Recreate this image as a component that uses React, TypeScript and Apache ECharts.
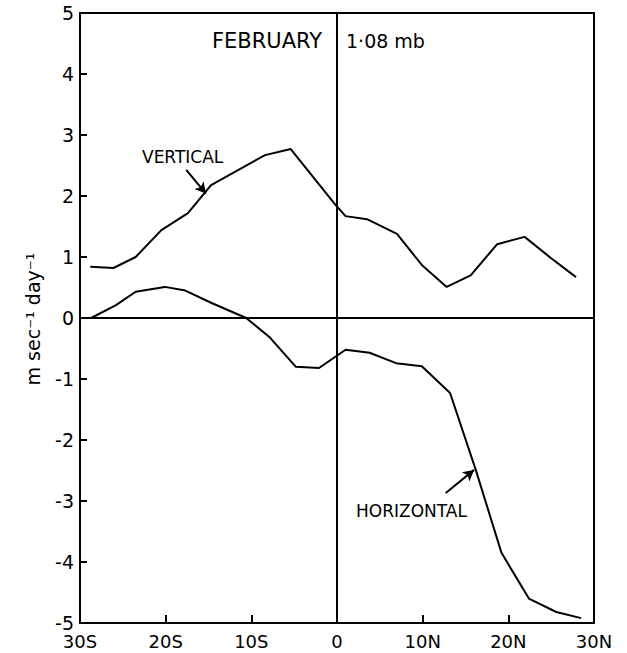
import React, { useEffect, useRef } from "react";
import * as echarts from "echarts";

const xTicks = [-30, -20, -10, 0, 10, 20, 30];
const xTickLabels = ["30S", "20S", "10S", "0", "10N", "20N", "30N"];

const verticalLat = [-28.8, -26.1, -23.5, -20.5, -17.4, -14.7, -11.5, -8.4, -5.4, -0.2, 1.0, 3.5, 7.0, 9.9, 12.8, 15.6, 18.7, 21.9, 25.0, 27.9];
const verticalVal = [0.84, 0.82, 1.0, 1.44, 1.72, 2.18, 2.43, 2.67, 2.77, 1.86, 1.67, 1.62, 1.38, 0.87, 0.51, 0.7, 1.21, 1.33, 0.98, 0.67];

const horizontalLat = [-28.7, -25.8, -23.5, -20.1, -17.7, -14.7, -10.6, -7.9, -4.8, -2.1, 1.0, 3.8, 6.9, 9.9, 13.2, 16.2, 19.2, 22.4, 25.6, 28.5];
const horizontalVal = [0.0, 0.21, 0.43, 0.51, 0.45, 0.25, 0.0, -0.31, -0.8, -0.82, -0.52, -0.57, -0.74, -0.79, -1.23, -2.49, -3.85, -4.6, -4.82, -4.92];

const verticalArrow = [[-17.6, 2.43], [-15.3, 2.04]];
const horizontalArrow = [[12.7, -2.87], [16.0, -2.49]];

const titleLeft = "FEBRUARY";
const titleRight = "1·08 mb";
const yName = "m sec⁻¹ day⁻¹";

const FONT = "DejaVu Sans";

export default function App() {
  const ref = useRef<HTMLDivElement>(null);
  useEffect(() => {
    if (!ref.current) return;
    const chart = echarts.init(ref.current, undefined, { renderer: "svg" });
    const pair = (xs: number[], ys: number[]) => xs.map((x, i) => [x, ys[i]]);
    const arrowLine = (a: number[][]) => ({
      silent: true,
      symbol: ["none", "arrow"],
      symbolSize: [9, 11],
      label: { show: false },
      lineStyle: { color: "#000", width: 2, type: "solid" },
      data: [[{ coord: a[0] }, { coord: a[1] }]],
    });
    chart.setOption({
      animation: false,
      backgroundColor: "#fff",
      grid: { left: 80, right: 33, top: 13, bottom: 30, show: true, borderColor: "#000", borderWidth: 2 },
      xAxis: {
        type: "value",
        min: -30,
        max: 30,
        interval: 10,
        axisLine: { show: true, onZero: false, lineStyle: { color: "#000", width: 2 } },
        axisTick: { show: true, inside: true, length: 8, lineStyle: { color: "#000", width: 2 } },
        splitLine: { show: false },
        axisLabel: {
          color: "#000",
          fontFamily: FONT,
          fontSize: 18,
          margin: 9,
          formatter: (v: number) => xTickLabels[xTicks.indexOf(v)] ?? "",
        },
      },
      yAxis: {
        type: "value",
        min: -5,
        max: 5,
        interval: 1,
        axisLine: { show: true, onZero: false, lineStyle: { color: "#000", width: 2 } },
        axisTick: { show: true, inside: true, length: 7, lineStyle: { color: "#000", width: 2 } },
        splitLine: { show: false },
        axisLabel: { color: "#000", fontFamily: FONT, fontSize: 19, margin: 6 },
      },
      graphic: [
        { type: "text", left: 212, top: 30, style: { text: titleLeft, fill: "#000", font: `21px '${FONT}'` } },
        { type: "text", left: 346, top: 31, style: { text: titleRight, fill: "#000", font: `19px '${FONT}'` } },
        { type: "text", left: 142, top: 148, style: { text: "VERTICAL", fill: "#000", font: `17px '${FONT}'` } },
        { type: "text", left: 356, top: 502, style: { text: "HORIZONTAL", fill: "#000", font: `17px '${FONT}'` } },
        {
          type: "text",
          x: 33,
          y: 319,
          rotation: Math.PI / 2,
          style: { text: yName, fill: "#000", font: `19px '${FONT}'`, align: "center", verticalAlign: "middle" },
        },
      ],
      series: [
        {
          type: "line",
          name: "VERTICAL",
          data: pair(verticalLat, verticalVal),
          symbol: "none",
          lineStyle: { color: "#000", width: 2 },
          markLine: arrowLine(verticalArrow),
        },
        {
          type: "line",
          name: "HORIZONTAL",
          data: pair(horizontalLat, horizontalVal),
          symbol: "none",
          lineStyle: { color: "#000", width: 2 },
          markLine: arrowLine(horizontalArrow),
        },
        {
          type: "line",
          name: "zero",
          data: [],
          markLine: {
            silent: true,
            symbol: "none",
            label: { show: false },
            lineStyle: { color: "#000", width: 2, type: "solid" },
            data: [{ xAxis: 0 }, { yAxis: 0 }],
          },
        },
      ],
    });
    return () => chart.dispose();
  }, []);
  return (
    <div style={{ position: "absolute", left: 0, top: 0 }}>
      <div ref={ref} style={{ width: 627, height: 653 }} />
    </div>
  );
}
